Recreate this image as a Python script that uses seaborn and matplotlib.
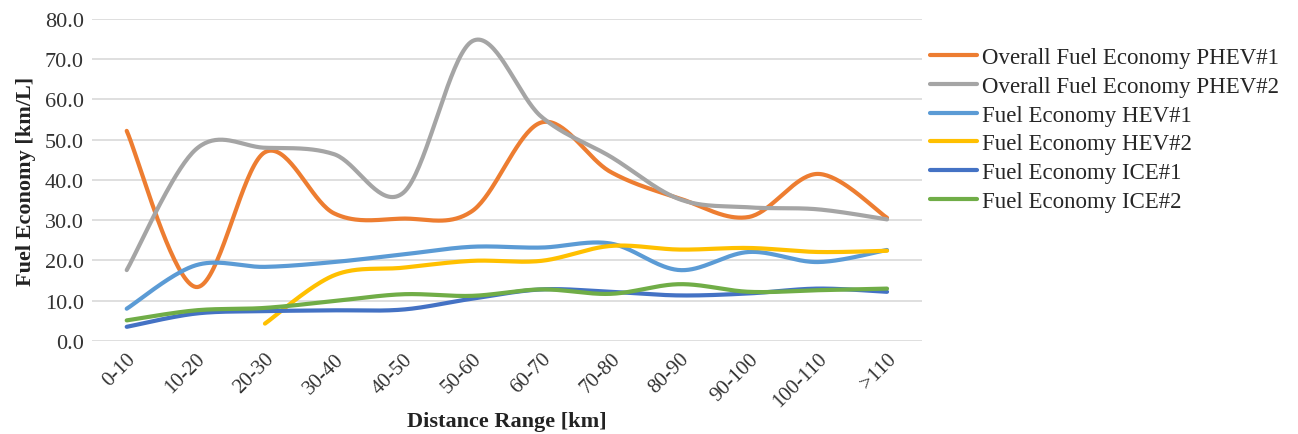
import numpy as np
import pandas as pd
import matplotlib
matplotlib.use("Agg")
import matplotlib.pyplot as plt
import seaborn as sns

categories = ["0-10", "10-20", "20-30", "30-40", "40-50", "50-60",
              "60-70", "70-80", "80-90", "90-100", "100-110", ">110"]

phev1 = [52.2, 13.4, 46.9, 31.7, 30.4, 32.3, 54.3, 42.0, 35.4, 30.8, 41.5, 30.6]
phev2 = [17.6, 47.6, 48.0, 46.4, 36.8, 74.5, 55.7, 45.8, 35.2, 33.2, 32.7, 30.2]
hev1 = [8.0, 18.8, 18.4, 19.6, 21.5, 23.4, 23.2, 24.2, 17.6, 22.1, 19.6, 22.6]
hev2 = [None, None, 4.3, 16.3, 18.2, 19.9, 19.9, 23.6, 22.7, 23.1, 22.1, 22.4]
ice1 = [3.5, 6.8, 7.4, 7.6, 7.8, 10.5, 12.8, 12.2, 11.3, 11.8, 13.0, 12.2]
ice2 = [5.1, 7.6, 8.2, 9.9, 11.6, 11.2, 12.8, 11.7, 14.1, 12.2, 12.6, 13.0]

series_names = ["Overall Fuel Economy PHEV#1", "Overall Fuel Economy PHEV#2",
                "Fuel Economy HEV#1", "Fuel Economy HEV#2",
                "Fuel Economy ICE#1", "Fuel Economy ICE#2"]
series_values = [phev1, phev2, hev1, hev2, ice1, ice2]
colors = ["#ED7D31", "#A5A5A5", "#5B9BD5", "#FFC000", "#4472C4", "#70AD47"]


def smooth(xs, ys, n=40):
    # excel-style smoothed line: cubic bezier through each point (catmull-rom tangents)
    xs = np.asarray(xs, float)
    ys = np.asarray(ys, float)
    px, py = [], []
    for i in range(len(xs) - 1):
        x0, y0 = xs[max(i - 1, 0)], ys[max(i - 1, 0)]
        x1, y1 = xs[i], ys[i]
        x2, y2 = xs[i + 1], ys[i + 1]
        x3, y3 = xs[min(i + 2, len(xs) - 1)], ys[min(i + 2, len(xs) - 1)]
        c1 = (x1 + (x2 - x0) / 6, y1 + (y2 - y0) / 6)
        c2 = (x2 - (x3 - x1) / 6, y2 - (y3 - y1) / 6)
        t = np.linspace(0, 1, n)
        a, b, c, d = (1 - t) ** 3, 3 * t * (1 - t) ** 2, 3 * t ** 2 * (1 - t), t ** 3
        px.extend(a * x1 + b * c1[0] + c * c2[0] + d * x2)
        py.extend(a * y1 + b * c1[1] + c * c2[1] + d * y2)
    return px, py


rows = []
for name, vals in zip(series_names, series_values):
    idx = [i for i, v in enumerate(vals) if v is not None]
    sx, sy = smooth(idx, [vals[i] for i in idx])
    for k, (a, b) in enumerate(zip(sx, sy)):
        rows.append({"series": name, "order": k, "x": a, "y": b})
df = pd.DataFrame(rows)

sns.set_theme(style="white")
plt.rcParams["font.family"] = ["Liberation Serif", "DejaVu Serif"]

fig = plt.figure(figsize=(12.98, 4.35), dpi=100)
ax = fig.add_axes([0.071, 0.214, 0.639, 0.740])

sns.lineplot(data=df, x="x", y="y", hue="series", hue_order=series_names,
             palette=colors, sort=False, estimator=None, units="series",
             linewidth=3, ax=ax, legend=False)
for line in ax.lines:
    line.set_solid_capstyle("round")

ax.set_xlim(-0.5, len(categories) - 0.5)
ax.set_ylim(0, 80)
ax.set_yticks(np.arange(0, 81, 10))
ax.set_yticklabels([f"{v:.1f}" for v in np.arange(0, 81, 10)], fontsize=16, color="#333333")
ax.set_xticks(range(len(categories)))
ax.set_xticklabels(categories, rotation=45, ha="right", rotation_mode="anchor",
                   fontsize=15, color="#333333")
ax.tick_params(axis="both", length=0, pad=6)
ax.grid(axis="y", color="#D9D9D9", linewidth=1.2)
for s in ax.spines.values():
    s.set_visible(False)

ax.set_xlabel("Distance Range [km]", fontsize=16, fontweight="bold", color="#222222")
ax.xaxis.label.set_va("center")
ax.xaxis.set_label_coords(0.5, -0.25)
ax.set_ylabel("Fuel Economy [km/L]", fontsize=16, fontweight="bold", color="#222222", labelpad=6)

handles = [plt.Line2D([0], [0], color=c, linewidth=3, solid_capstyle="round") for c in colors]
fig.legend(handles, series_names, loc="upper left", bbox_to_anchor=(0.7165, 0.89),
           frameon=False, fontsize=16.5, handlelength=2.05, handletextpad=0.2,
           labelspacing=0.34, borderaxespad=0, borderpad=0)

fig.savefig("out.png", dpi=100)
